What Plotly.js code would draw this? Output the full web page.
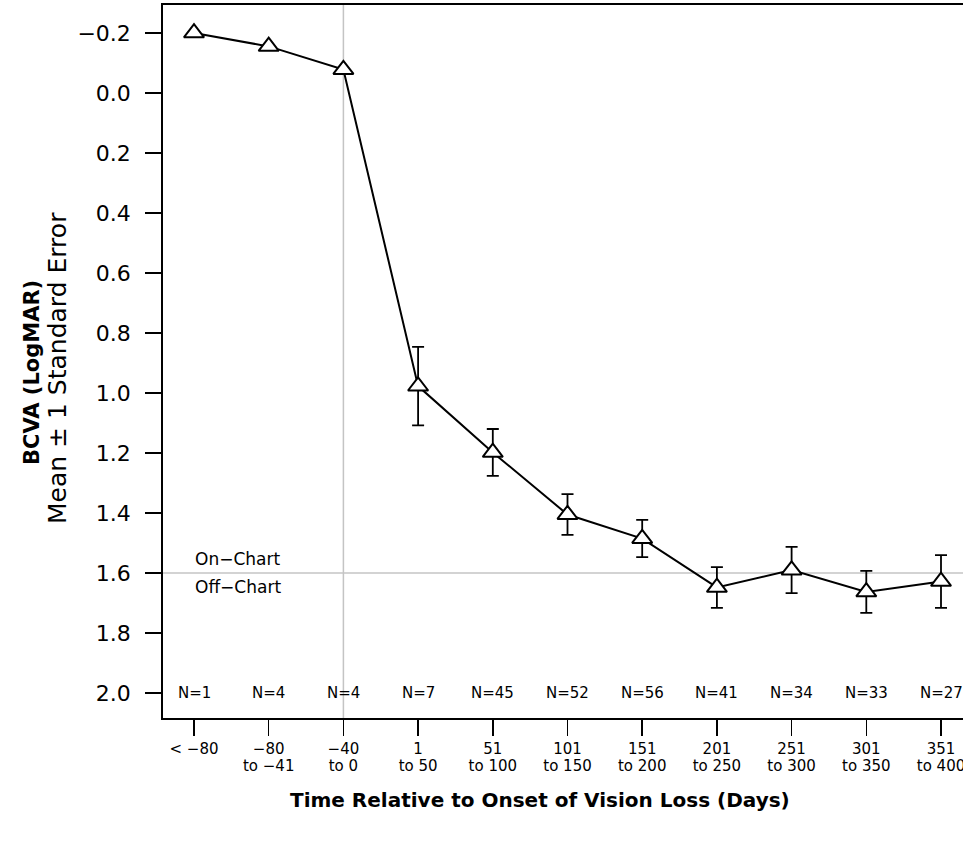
<!DOCTYPE html>
<html>
<head>
<meta charset="utf-8">
<script src="https://cdn.plot.ly/plotly-3.0.1.min.js"></script>
<style>
html, body { margin: 0; padding: 0; overflow: hidden; background: #fff; }
#chart { width: 980px; height: 841px; }
</style>
</head>
<body>
<div id="chart"></div>
<script>
// ---- data ----
const tickLine1 = ["< \u221280", "\u221280", "\u221240", "1", "51", "101", "151", "201", "251", "301", "351"];
const tickLine2 = ["", "to \u221241", "to 0", "to 50", "to 100", "to 150", "to 200", "to 250", "to 300", "to 350", "to 400"];
const meanBCVA = [-0.20, -0.155, -0.078, 0.977, 1.198, 1.405, 1.485, 1.648, 1.59, 1.663, 1.628];
const stdErr = [null, null, null, 0.131, 0.078, 0.068, 0.062, 0.068, 0.077, 0.070, 0.088];
const nCounts = [1, 4, 4, 7, 45, 52, 56, 41, 34, 33, 27];
const yTickVals = [-0.2, 0.0, 0.2, 0.4, 0.6, 0.8, 1.0, 1.2, 1.4, 1.6, 1.8, 2.0];
const yTickText = ["\u22120.2", "0.0", "0.2", "0.4", "0.6", "0.8", "1.0", "1.2", "1.4", "1.6", "1.8", "2.0"];
const onsetIndex = 2;
const chartThreshold = 1.6;

const xIdx = tickLine1.map((c, i) => i);
const FONT = "DejaVu Sans, Liberation Sans, Arial, sans-serif";

const trace = {
  x: xIdx,
  y: meanBCVA,
  type: "scatter",
  mode: "lines+markers",
  line: { color: "#000", width: 2 },
  marker: { symbol: "triangle-up", size: 17.5, color: "#fff", line: { color: "#000", width: 2 } },
  error_y: { type: "data", array: stdErr, visible: true, color: "#000", thickness: 1.8, width: 6 },
  showlegend: false,
  hoverinfo: "skip"
};

const annotations = nCounts.map((n, i) => ({
  x: i, y: 2.0, xref: "x", yref: "y", text: "N=" + n, showarrow: false,
  font: { family: FONT, size: 15, color: "#000" }, xanchor: "center", yanchor: "middle"
}));
annotations.push({
  x: 0, y: chartThreshold, xref: "x", yref: "y", text: "On\u2212Chart", showarrow: false,
  font: { family: FONT, size: 17, color: "#000" }, xanchor: "left", yanchor: "bottom", yshift: 2, xshift: -1
});
annotations.push({
  x: 0, y: chartThreshold, xref: "x", yref: "y", text: "Off\u2212Chart", showarrow: false,
  font: { family: FONT, size: 17, color: "#000" }, xanchor: "left", yanchor: "top", yshift: -2, xshift: -1
});
// x-axis title
annotations.push({
  x: (540 - 163) / 809, y: -(800 - 718) / 713, xref: "paper", yref: "paper",
  text: "<b>Time Relative to Onset of Vision Loss (Days)</b>", showarrow: false,
  font: { family: FONT, size: 20, color: "#000" }, xanchor: "center", yanchor: "middle"
});
// y-axis title lines
annotations.push({
  x: -(163 - 32) / 809, y: (718 - 373) / 713, xref: "paper", yref: "paper",
  text: "<b>BCVA (LogMAR)</b>", textangle: -90, showarrow: false,
  font: { family: FONT, size: 21, color: "#000" }, xanchor: "center", yanchor: "middle"
});
annotations.push({
  x: -(163 - 57) / 809, y: (718 - 368) / 713, xref: "paper", yref: "paper",
  text: "Mean \u00b1 1 Standard Error", textangle: -90, showarrow: false,
  font: { family: FONT, size: 25, color: "#000" }, xanchor: "center", yanchor: "middle"
});

const layout = {
  width: 980, height: 841,
  margin: { l: 163, r: 8, t: 5, b: 123 },
  paper_bgcolor: "#fff", plot_bgcolor: "#fff",
  font: { family: FONT, color: "#000" },
  xaxis: {
    range: [-0.415, 10.415], tickmode: "array", tickvals: xIdx, ticktext: tickLine1,
    showgrid: false, zeroline: false, showline: true, mirror: true, linecolor: "#000", linewidth: 1.8,
    ticks: "outside", ticklen: 16, tickwidth: 1.5, tickcolor: "#000",
    tickfont: { family: FONT, size: 15, color: "#000" }
  },
  xaxis2: {
    overlaying: "x", anchor: "y", side: "bottom", matches: "x",
    range: [-0.415, 10.415], tickmode: "array", tickvals: xIdx, ticktext: tickLine2,
    showgrid: false, zeroline: false, showline: false, ticks: "", ticklabelstandoff: 37,
    tickfont: { family: FONT, size: 15, color: "#000" }
  },
  yaxis: {
    range: [2.083, -0.293], tickmode: "array", tickvals: yTickVals, ticktext: yTickText,
    showgrid: false, zeroline: false, showline: true, mirror: true, linecolor: "#000", linewidth: 1.8,
    ticks: "outside", ticklen: 16, tickwidth: 1.5, tickcolor: "#000", ticklabelstandoff: 10,
    tickfont: { family: FONT, size: 22, color: "#000" }
  },
  shapes: [
    { type: "line", xref: "x", yref: "paper", x0: onsetIndex, x1: onsetIndex, y0: 0, y1: 1,
      line: { color: "#c4c4c4", width: 1.5 }, layer: "below" },
    { type: "line", xref: "paper", yref: "y", x0: 0, x1: 1, y0: chartThreshold, y1: chartThreshold,
      line: { color: "#c4c4c4", width: 1.5 }, layer: "below" }
  ],
  annotations: annotations
};

const ghost = { x: xIdx, y: meanBCVA, xaxis: "x2", yaxis: "y", type: "scatter", mode: "none",
  showlegend: false, hoverinfo: "skip" };

Plotly.newPlot("chart", [ghost, trace], layout, { displayModeBar: false, staticPlot: true });
</script>
</body>
</html>
